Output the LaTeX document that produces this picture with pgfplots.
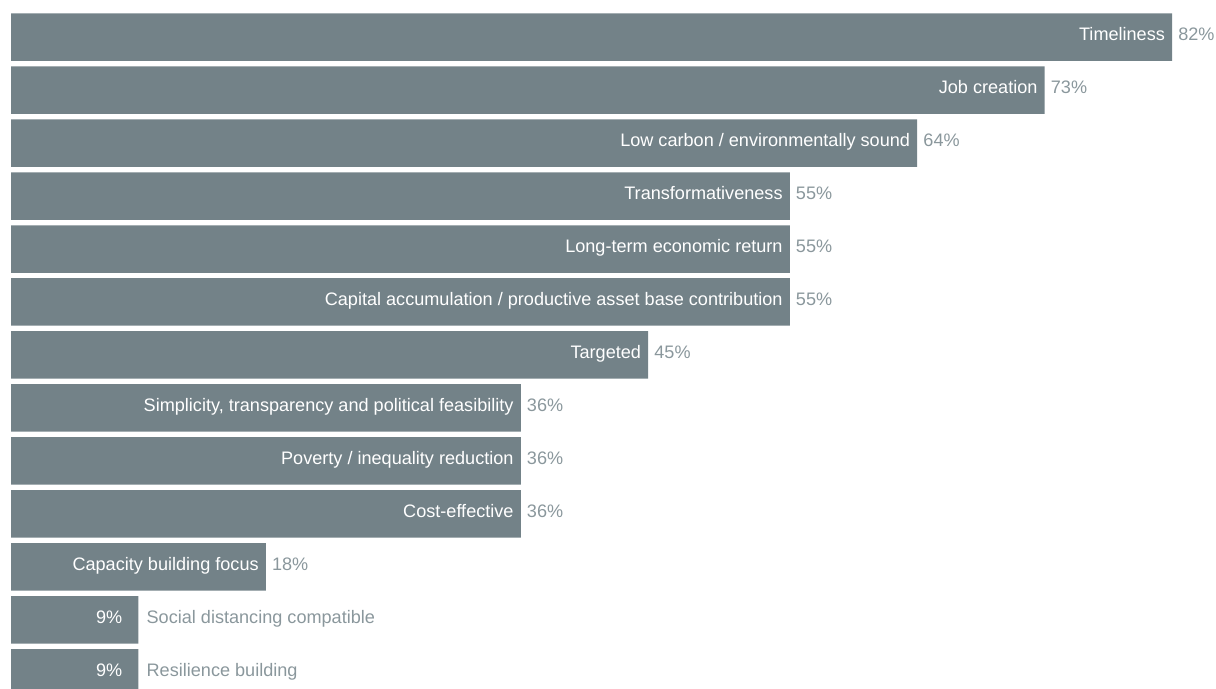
\documentclass[border=0pt]{standalone}
\usepackage{pgfplots}
\pgfplotsset{compat=1.18}
\usepackage{pgfplotstable}
\usepackage{fontspec}
\setmainfont{Liberation Sans}
\definecolor{barc}{HTML}{738288}
\definecolor{txtc}{HTML}{8A979C}

\pgfplotstableread[col sep=semicolon]{
i;v;label
0;82;Timeliness
1;73;Job creation
2;64;Low carbon / environmentally sound
3;55;Transformativeness
4;55;Long-term economic return
5;55;Capital accumulation / productive asset base contribution
6;45;Targeted
7;36;Simplicity, transparency and political feasibility
8;36;Poverty / inequality reduction
9;36;Cost-effective
10;18;Capacity building focus
}\bigbars

\pgfplotstableread[col sep=semicolon]{
i;v;label
11;9;Social distancing compatible
12;9;Resilience building
}\smallbars

\begin{document}
\begin{tikzpicture}[font=\fontsize{18.1}{21}\selectfont]
\begin{axis}[
  name=ax,
  scale only axis, width=1216pt, height=689pt,
  xmin=-0.777, xmax=85.1, ymin=-0.700, ymax=12.305, y dir=reverse,
  axis lines=none, xbar, bar width=47.5pt, bar shift=0pt, clip=true,
  /pgf/number format/assume math mode=true,
]
% big bars with labels inside
\addplot[fill=barc, draw=none, bar shift=0pt, point meta=explicit symbolic, nodes near coords,
  every node near coord/.append style={anchor=base east, text=white, inner sep=0pt, xshift=-7pt, yshift=-0.36em}]
  table[x=v,y=i,meta=label]{\bigbars};
% values outside
\addplot[draw=none, fill=none, bar shift=0pt, point meta=x,
  nodes near coords={\pgfmathprintnumber{\pgfplotspointmeta}\%},
  every node near coord/.append style={anchor=base west, text=txtc, inner sep=0pt, xshift=6pt, yshift=-0.36em}]
  table[x=v,y=i]{\bigbars};
% small bars with values inside
\addplot[fill=barc, draw=none, bar shift=0pt, point meta=x,
  nodes near coords={\pgfmathprintnumber{\pgfplotspointmeta}\%},
  every node near coord/.append style={anchor=base east, text=white, inner sep=0pt, xshift=-16pt, yshift=-0.36em}]
  table[x=v,y=i]{\smallbars};
% labels outside
\addplot[draw=none, fill=none, bar shift=0pt, point meta=explicit symbolic, nodes near coords,
  every node near coord/.append style={anchor=base west, text=txtc, inner sep=0pt, xshift=8pt, yshift=-0.36em}]
  table[x=v,y=i,meta=label]{\smallbars};
\end{axis}
\pgfresetboundingbox
\path[use as bounding box] (ax.south west) rectangle (ax.north east);
\end{tikzpicture}
\end{document}
